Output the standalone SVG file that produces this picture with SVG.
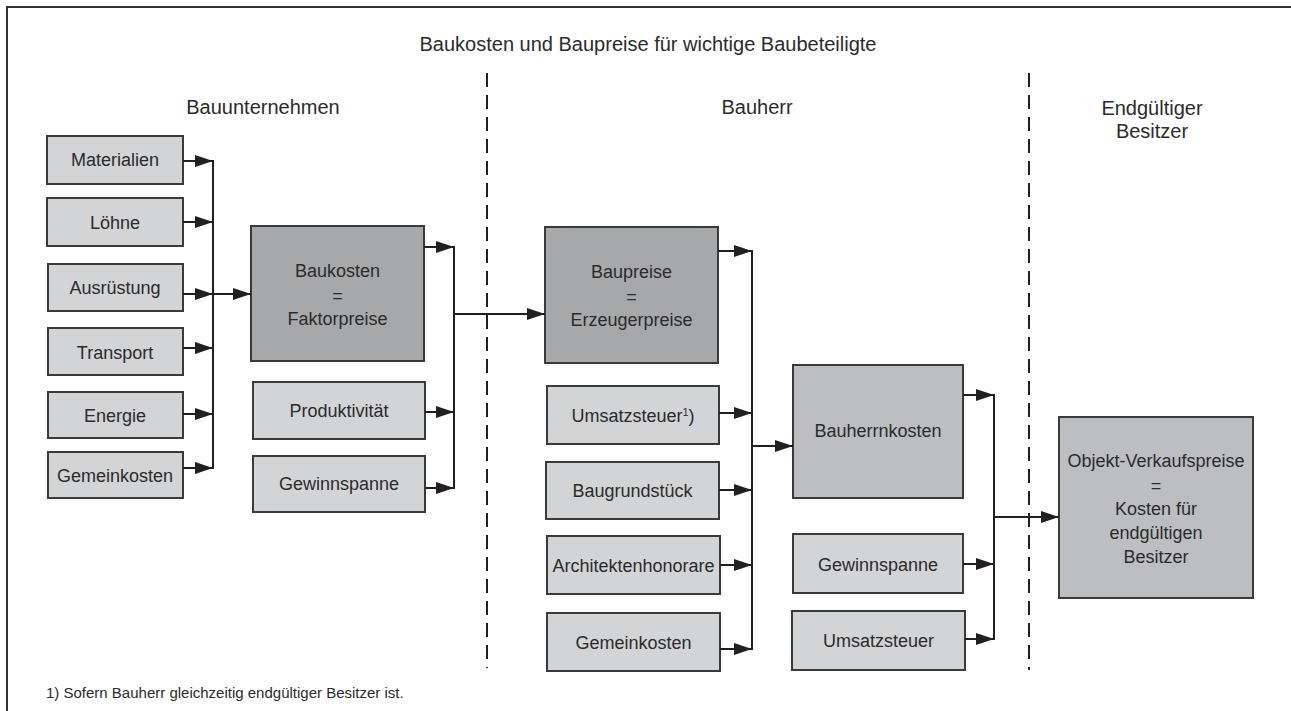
<svg xmlns="http://www.w3.org/2000/svg" width="1291" height="711" viewBox="0 0 1291 711">
<defs>
<style>
.t{font-family:"Liberation Sans",Arial,sans-serif;fill:#2b2b2b;text-anchor:middle}
.h{font-size:20px}
.n{font-size:18px}
.f{font-size:15px;text-anchor:start}
.b{stroke:#3a3a3a;stroke-width:2}
.l{fill:#d3d4d6}
.d{fill:#a7a8aa}
.m{fill:#bdbec1}
.c{fill:none;stroke:#231f20;stroke-width:2}
.a{marker-end:url(#arr)}
.dash{fill:none;stroke:#231f20;stroke-width:2;stroke-dasharray:14 8}
</style>
<marker id="arr" markerUnits="userSpaceOnUse" markerWidth="18" markerHeight="12" refX="18" refY="6" orient="auto">
<path d="M0,0 L18,6 L0,12 z" fill="#231f20"/>
</marker>
</defs>
<rect width="1291" height="711" fill="#ffffff"/>
<path d="M7,711 V7 H1291" fill="none" stroke="#333" stroke-width="2"/>

<g id="labels">
<text class="t h" x="648" y="51">Baukosten und Baupreise für wichtige Baubeteiligte</text>
<text class="t h" x="263" y="114">Bauunternehmen</text>
<text class="t h" x="757" y="114">Bauherr</text>
<text class="t h" x="1152" y="115">Endgültiger</text>
<text class="t h" x="1152" y="138">Besitzer</text>
<text class="t f" x="46" y="698">1) Sofern Bauherr gleichzeitig endgültiger Besitzer ist.</text>
</g>

<g id="dividers">
<line class="dash" x1="487" y1="73" x2="487" y2="668"/>
<line class="dash" x1="1029" y1="73" x2="1029" y2="670"/>
</g>

<g id="n-materialien"><rect class="b l" x="47" y="136" width="136" height="48"/><text class="t n" x="115" y="166">Materialien</text></g>
<g id="n-loehne"><rect class="b l" x="47" y="198" width="136" height="48"/><text class="t n" x="115" y="229">Löhne</text></g>
<g id="n-ausruestung"><rect class="b l" x="48" y="264" width="135" height="47"/><text class="t n" x="115" y="294">Ausrüstung</text></g>
<g id="n-transport"><rect class="b l" x="48" y="328" width="135" height="47"/><text class="t n" x="115" y="359">Transport</text></g>
<g id="n-energie"><rect class="b l" x="48" y="392" width="135" height="46"/><text class="t n" x="115" y="422">Energie</text></g>
<g id="n-gemeinkosten1"><rect class="b l" x="48" y="452" width="135" height="46"/><text class="t n" x="115" y="482">Gemeinkosten</text></g>

<g id="n-baukosten"><rect class="b d" x="251" y="226" width="173" height="135"/>
<text class="t n" x="337.5" y="277">Baukosten</text><text class="t n" x="337.5" y="302">=</text><text class="t n" x="337.5" y="325">Faktorpreise</text></g>
<g id="n-produktivitaet"><rect class="b l" x="253" y="382" width="172" height="57"/><text class="t n" x="339" y="417">Produktivität</text></g>
<g id="n-gewinnspanne1"><rect class="b l" x="253" y="456" width="172" height="56"/><text class="t n" x="339" y="490">Gewinnspanne</text></g>

<g id="n-baupreise"><rect class="b d" x="545" y="227" width="173" height="136"/>
<text class="t n" x="631.5" y="278">Baupreise</text><text class="t n" x="631.5" y="303">=</text><text class="t n" x="631.5" y="326">Erzeugerpreise</text></g>
<g id="n-umsatzsteuer1"><rect class="b l" x="547" y="386" width="172" height="58"/><text class="t n" x="633" y="422">Umsatzsteuer<tspan font-size="11" dy="-6">1</tspan><tspan dy="6">)</tspan></text></g>
<g id="n-baugrundstueck"><rect class="b l" x="546" y="462" width="173" height="57"/><text class="t n" x="632.5" y="497">Baugrundstück</text></g>
<g id="n-architekten"><rect class="b l" x="547" y="536" width="173" height="58"/><text class="t n" x="633.5" y="572">Architektenhonorare</text></g>
<g id="n-gemeinkosten2"><rect class="b l" x="547" y="613" width="173" height="58"/><text class="t n" x="633.5" y="649">Gemeinkosten</text></g>

<g id="n-bauherrnkosten"><rect class="b m" x="793" y="365" width="170" height="133"/><text class="t n" x="878" y="437">Bauherrnkosten</text></g>
<g id="n-gewinnspanne2"><rect class="b l" x="793" y="534" width="170" height="59"/><text class="t n" x="878" y="571">Gewinnspanne</text></g>
<g id="n-umsatzsteuer2"><rect class="b l" x="792" y="611" width="173" height="59"/><text class="t n" x="878.5" y="647">Umsatzsteuer</text></g>

<g id="n-objekt"><rect class="b m" x="1059" y="417" width="194" height="181"/>
<text class="t n" x="1156" y="467">Objekt-Verkaufspreise</text>
<text class="t n" x="1156" y="492">=</text>
<text class="t n" x="1156" y="515">Kosten für</text>
<text class="t n" x="1156" y="539">endgültigen</text>
<text class="t n" x="1156" y="563">Besitzer</text></g>

<g id="connectors">
<line class="c a" x1="183" y1="161" x2="213" y2="161"/>
<line class="c a" x1="183" y1="222" x2="213" y2="222"/>
<line class="c a" x1="183" y1="294" x2="213" y2="294"/>
<line class="c a" x1="183" y1="348" x2="213" y2="348"/>
<line class="c a" x1="183" y1="414" x2="213" y2="414"/>
<line class="c a" x1="183" y1="468" x2="213" y2="468"/>
<line class="c" x1="213" y1="160" x2="213" y2="469"/>
<line class="c a" x1="213" y1="294" x2="251" y2="294"/>

<line class="c a" x1="424" y1="247" x2="454" y2="247"/>
<line class="c a" x1="425" y1="412" x2="454" y2="412"/>
<line class="c a" x1="425" y1="488" x2="454" y2="488"/>
<line class="c" x1="454" y1="246" x2="454" y2="489"/>
<line class="c a" x1="454" y1="314" x2="545" y2="314"/>

<line class="c a" x1="718" y1="251" x2="752" y2="251"/>
<line class="c a" x1="719" y1="413" x2="752" y2="413"/>
<line class="c a" x1="719" y1="490" x2="752" y2="490"/>
<line class="c a" x1="720" y1="565" x2="752" y2="565"/>
<line class="c a" x1="720" y1="649" x2="752" y2="649"/>
<line class="c" x1="752" y1="250" x2="752" y2="650"/>
<line class="c a" x1="752" y1="446" x2="793" y2="446"/>

<line class="c a" x1="963" y1="395" x2="994" y2="395"/>
<line class="c a" x1="963" y1="564" x2="994" y2="564"/>
<line class="c a" x1="965" y1="639" x2="994" y2="639"/>
<line class="c" x1="994" y1="394" x2="994" y2="640"/>
<line class="c a" x1="994" y1="517" x2="1059" y2="517"/>
</g>
</svg>
